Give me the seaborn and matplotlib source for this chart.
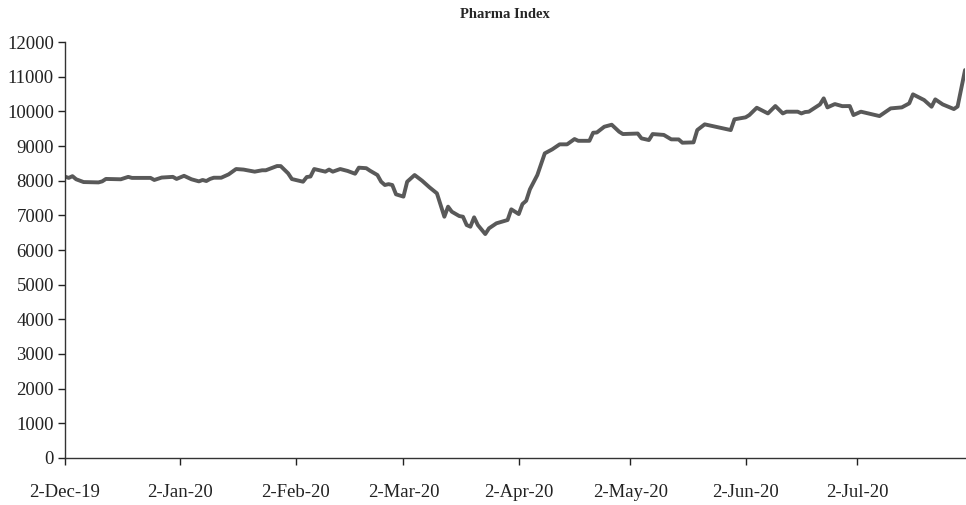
import pandas as pd
import seaborn as sns
import matplotlib.pyplot as plt

# Dados: dias desde 2-Dec-19 e valor do índice
dias = [0, 1, 2, 3, 5, 9, 10, 11, 15, 17, 18, 23, 24, 26, 29, 30, 32, 34, 36, 37,
        38, 39, 40, 42, 44, 46, 48, 51, 53, 54, 57, 58, 60, 61, 64, 65, 66, 67, 70, 71,
        72, 74, 76, 78, 79, 81, 82, 84, 85, 86, 87, 88, 89, 91, 92, 94, 96, 98, 100, 102,
        103, 104, 106, 107, 108, 109, 110, 111, 113, 114, 116, 119, 120, 122, 123, 124, 125, 127, 129, 131,
        133, 135, 137, 138, 141, 142, 143, 145, 147, 149, 150, 154, 155, 157, 158, 161, 163, 165, 166, 169,
        170, 172, 179, 180, 183, 184, 186, 189, 191, 193, 194, 197, 198, 199, 200, 203, 204, 205, 207, 209,
        211, 212, 214, 219, 222, 225, 227, 228, 231, 233, 234, 236, 239, 240, 242]
valores = [8115, 8080, 8130, 8040, 7960, 7950, 7980, 8050, 8040, 8110, 8080, 8080, 8020, 8090, 8110, 8050, 8140, 8040, 7980, 8020,
           7990, 8050, 8085, 8085, 8182, 8336, 8320, 8260, 8300, 8300, 8422, 8420, 8210, 8047, 7970, 8105, 8120, 8336, 8260, 8320,
           8260, 8336, 8280, 8200, 8375, 8360, 8288, 8163, 7970, 7875, 7900, 7875, 7606, 7540, 7970, 8163, 8000, 7808, 7634, 6960,
           7250, 7105, 6980, 6960, 6720, 6672, 6942, 6720, 6460, 6625, 6770, 6865, 7173, 7037, 7326, 7420, 7750, 8163, 8788, 8903,
           9048, 9048, 9201, 9150, 9150, 9383, 9390, 9556, 9614, 9412, 9345, 9360, 9220, 9172, 9345, 9320, 9192, 9190, 9095, 9105,
           9460, 9625, 9460, 9770, 9827, 9893, 10104, 9940, 10153, 9940, 9990, 9990, 9940, 9980, 9990, 10200, 10374, 10114, 10210, 10150,
           10153, 9893, 9990, 9864, 10085, 10114, 10230, 10490, 10326, 10133, 10345, 10200, 10066, 10140, 11191]
meses = ["2019-12-02", "2020-01-02", "2020-02-02", "2020-03-02", "2020-04-02",
         "2020-05-02", "2020-06-02", "2020-07-02"]
rotulos = ["2-Dec-19", "2-Jan-20", "2-Feb-20", "2-Mar-20", "2-Apr-20",
           "2-May-20", "2-Jun-20", "2-Jul-20"]

inicio = pd.Timestamp("2019-12-02")
df = pd.DataFrame({"data": inicio + pd.to_timedelta(dias, unit="D"), "indice": valores})

sns.set_style("ticks")
plt.rcParams["font.family"] = ["Liberation Serif", "DejaVu Serif"]

fig = plt.figure(figsize=(9.66, 5.05), dpi=100)
ax = fig.add_axes([0.0673, 0.0931, 0.9317, 0.8237])

sns.lineplot(data=df, x="data", y="indice", ax=ax, color="#595959", linewidth=2.8)

ax.set_xlim(inicio, pd.Timestamp("2020-07-31"))
ax.set_ylim(0, 12000)
ax.set_yticks(range(0, 12001, 1000))
ax.set_xticks(pd.to_datetime(meses))
ax.set_xticklabels(rotulos)
ax.set_xlabel("")
ax.set_ylabel("")
ax.tick_params(axis="both", labelsize=13.5, colors="#222222", length=5, width=1)
ax.tick_params(axis="x", pad=14)
ax.tick_params(axis="y", pad=3)
for lado in ["top", "right"]:
    ax.spines[lado].set_visible(False)
for lado in ["left", "bottom"]:
    ax.spines[lado].set_color("#333333")
    ax.spines[lado].set_linewidth(1)

fig.suptitle("Pharma Index", x=0.523, y=0.984, fontsize=10.5, fontweight="bold")

fig.savefig("out.png", dpi=100)
